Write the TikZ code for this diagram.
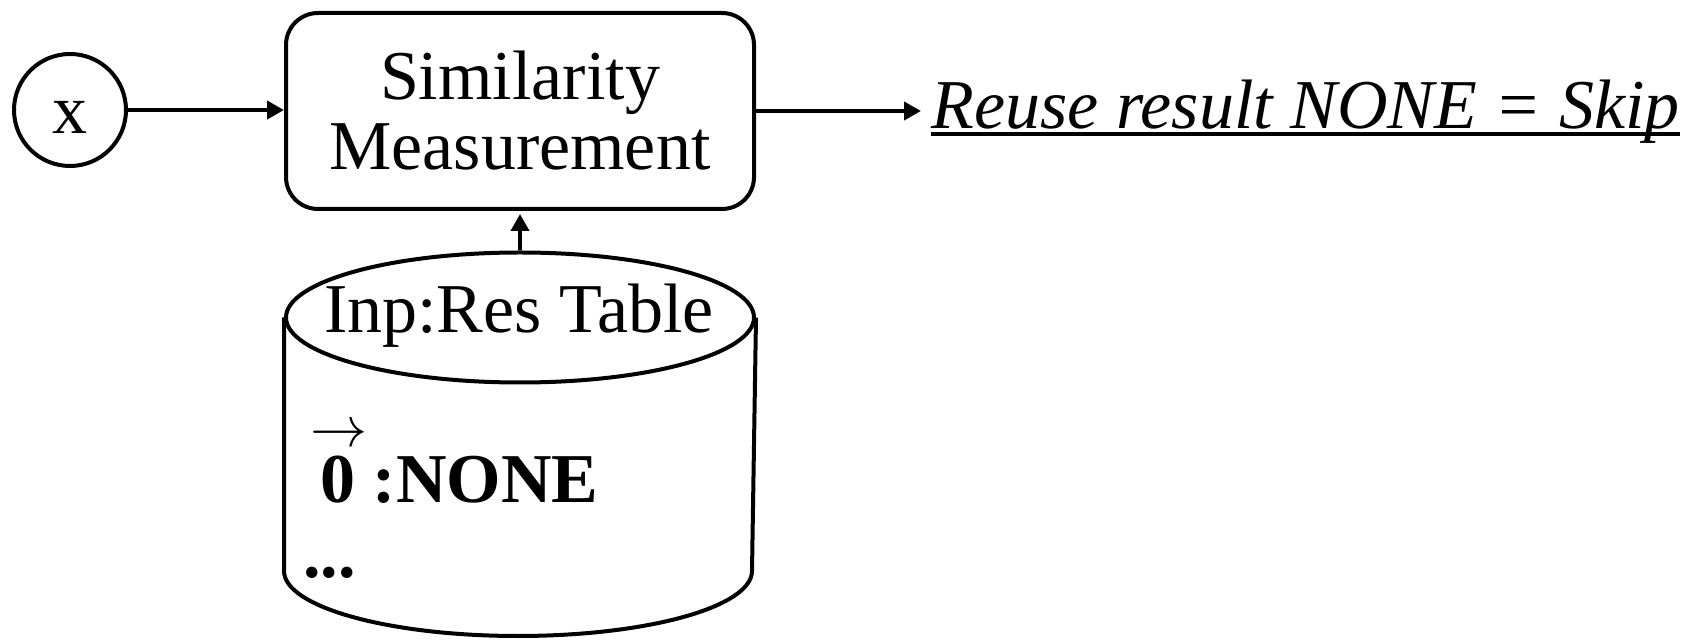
\documentclass[tikz,border=0pt]{standalone}
\usepackage{fix-cm}
\usepackage{fontspec}
\setmainfont{Liberation Serif}
\usetikzlibrary{arrows.meta,shapes.geometric}
\begin{document}
\begin{tikzpicture}[x=0.5pt,y=-0.5pt,
  lw/.style={line width=2pt},
  conn/.style={lw,-{Triangle[length=8.5pt,width=9pt]}},
  txt/.style={font=\fontsize{35}{35}\selectfont, inner sep=0pt},
  ]
\useasboundingbox (0,0) rectangle (1686,640);
% input circle
\node[circle,draw,lw,minimum size=56pt,txt] (x) at (70,110) {\raisebox{-3.5pt}[\height][0pt]{x}};
% similarity box
\node[draw,lw,rounded corners=16pt,minimum width=234pt,minimum height=98pt,align=center,txt] (sim) at (520,111) {Similarity\\Measurement};
% result text
\node[txt,anchor=base west] (res) at (931,129) {\textit{Reuse result NONE = Skip}};
\draw[lw] ([yshift=-2.5pt]res.base west) -- ([yshift=-2.5pt]res.base east);
% table cylinder
\node[ellipse,draw,lw,minimum width=234pt,minimum height=65pt,inner sep=0pt] (tbl) at (520,317.5) {};
\draw[lw] (tbl.west) -- ++(0,253.5) arc[start angle=180,end angle=360,x radius=117pt,y radius=32.5pt] -- (tbl.east);
\node[txt,anchor=base] (tbltitle) at (519,333) {Inp:Res Table};
\node[txt,anchor=base west,font=\fontsize{35}{35}\selectfont\bfseries] (zero) at (320,503) {0 :NONE};
\node[inner sep=0pt,anchor=base,font=\fontsize{28.5}{28.5}\selectfont] (vec) at (338.5,447) {$\rightarrow$};
\node[txt,anchor=base west,font=\fontsize{35}{35}\selectfont\bfseries] (dots) at (303,578) {...};
% connectors
\draw[conn] (x.east) -- (x.east -| sim.west);
\coordinate (resin) at (res.west |- sim.east);
\draw[conn] (sim.east) -- ([xshift=-5pt]resin);
\draw[conn] (tbl.north) -- ([yshift=-1.5pt]sim.south);
\end{tikzpicture}
\end{document}
